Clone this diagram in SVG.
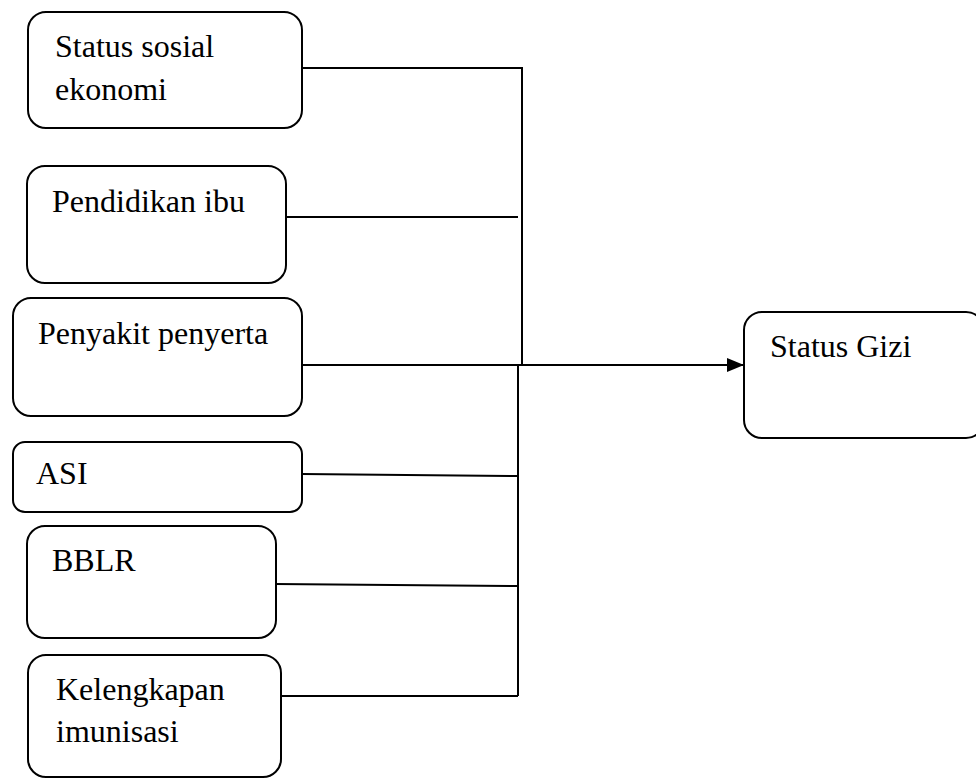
<svg xmlns="http://www.w3.org/2000/svg" width="976" height="780" viewBox="0 0 976 780">
<style>
.box{fill:#fff;stroke:#000;stroke-width:2}
text{font-family:'Liberation Serif','Times New Roman',Times,serif;font-size:32px;fill:#000}
.c{fill:none;stroke:#000;stroke-width:2}
</style>
<defs>
<marker id="arr" markerUnits="userSpaceOnUse" markerWidth="18" markerHeight="14" refX="17" refY="7" orient="auto">
<path d="M0,0 L17,7 L0,14 Z" fill="#000"/>
</marker>
</defs>
<rect width="976" height="780" fill="#fff"/>
<g id="connectors">
<path class="c" d="M302,68 H522 V365" stroke-width="2.5"/>
<path class="c" d="M286,217 H518"/>
<path class="c" d="M302,365 H518"/>
<path class="c" d="M518,365 H744" marker-end="url(#arr)"/>
<path class="c" d="M518,365 V696"/>
<path class="c" d="M302,474 L518,476"/>
<path class="c" d="M275,584 L518,586"/>
<path class="c" d="M282,696 H518"/>
</g>
<g id="n1"><rect class="box" x="28" y="12" width="274" height="116" rx="18"/><text x="55" y="57">Status sosial</text><text x="55" y="100">ekonomi</text></g>
<g id="n2"><rect class="box" x="27" y="166" width="259" height="117" rx="18"/><text x="52" y="212">Pendidikan ibu</text></g>
<g id="n3"><rect class="box" x="13" y="298" width="289" height="118" rx="18"/><text x="38" y="344">Penyakit penyerta</text></g>
<g id="n4"><rect class="box" x="13" y="442" width="289" height="70" rx="12"/><text x="36" y="484">ASI</text></g>
<g id="n5"><rect class="box" x="27" y="526" width="249" height="112" rx="18"/><text x="52" y="571">BBLR</text></g>
<g id="n6"><rect class="box" x="28" y="655" width="253" height="122" rx="18"/><text x="56" y="700">Kelengkapan</text><text x="56" y="742">imunisasi</text></g>
<g id="n7"><rect class="box" x="744" y="312" width="240" height="126" rx="18"/><text x="770" y="357">Status Gizi</text></g>
</svg>
